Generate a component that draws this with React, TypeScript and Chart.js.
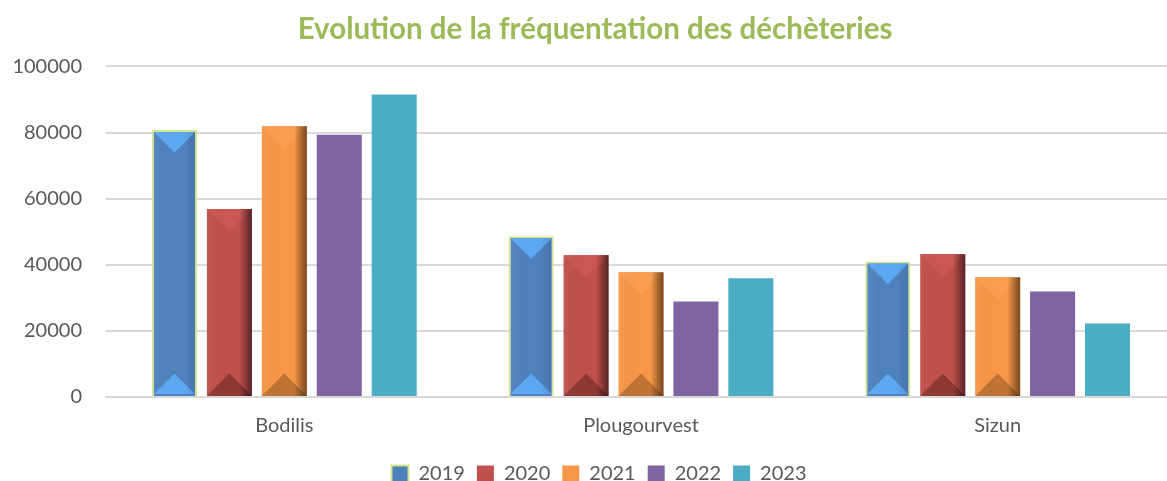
import React, { useEffect, useRef } from 'react';
import { Chart, registerables } from 'chart.js';

Chart.register(...registerables);

const categories = ['Bodilis', 'Plougourvest', 'Sizun'];
const years = ['2019', '2020', '2021', '2022', '2023'];
const values2019 = [80800, 48600, 41000];
const values2020 = [56900, 42900, 43200];
const values2021 = [81900, 37700, 36200];
const values2022 = [79300, 28900, 31900];
const values2023 = [91500, 35900, 22200];
const yTickValues = [0, 20000, 40000, 60000, 80000, 100000];

const seriesValues = [values2019, values2020, values2021, values2022, values2023];
const seriesColors = ['#4F81BD', '#C0504D', '#F79646', '#8064A2', '#4BACC6'];
const seriesBorders = ['#D3E58C', '#C0504D', '#F79646', '#8064A2', '#4BACC6'];
const seriesBorderWidths = [2, 0, 0, 0, 0];

type Bevel = { inset: number; left: string; right: string; top: string; bottom: string } | null;
const bevels: Bevel[] = [
  { inset: 2, left: 'rgba(255,255,255,0.05)', right: 'rgba(0,0,40,0.10)', top: '#5DA8F2', bottom: '#5DA8F2' },
  { inset: 0, left: 'rgba(255,255,255,0.04)', right: 'rgba(0,0,0,0.55)', top: '#CB5653', bottom: '#8E3835' },
  { inset: 0, left: 'rgba(255,255,255,0.05)', right: 'rgba(40,20,0,0.60)', top: '#F99E50', bottom: '#BF7334' },
  null,
  null,
];

const bevelPlugin = {
  id: 'bevel',
  afterDatasetsDraw(chart: any) {
    const ctx = chart.ctx as CanvasRenderingContext2D;
    bevels.forEach((st, di) => {
      if (!st) return;
      const meta = chart.getDatasetMeta(di);
      meta.data.forEach((bar: any) => {
        const p = bar.getProps(['x', 'y', 'base', 'width'], true);
        const l = p.x - p.width / 2 + st.inset;
        const r = p.x + p.width / 2 - st.inset;
        const t = p.y + st.inset;
        const b = p.base - st.inset;
        const w = r - l;
        const d = Math.min(w / 2, (b - t) / 2);
        ctx.save();
        ctx.beginPath();
        ctx.moveTo(l, t);
        ctx.lineTo(r, t);
        ctx.lineTo(p.x, t + d);
        ctx.closePath();
        ctx.fillStyle = st.top;
        ctx.fill();
        ctx.beginPath();
        ctx.moveTo(l, b);
        ctx.lineTo(r, b);
        ctx.lineTo(p.x, b - d);
        ctx.closePath();
        ctx.fillStyle = st.bottom;
        ctx.fill();
        const g = ctx.createLinearGradient(l, 0, r, 0);
        g.addColorStop(0, st.left);
        g.addColorStop(0.45, 'rgba(0,0,0,0)');
        g.addColorStop(0.72, 'rgba(0,0,0,0)');
        g.addColorStop(1, st.right);
        ctx.fillStyle = g;
        ctx.fillRect(l, t, w, b - t);
        ctx.restore();
      });
    });
  },
};

const shiftPlugin = {
  id: 'shiftBoxes',
  afterLayout(chart: any) {
    if (chart.legend) {
      chart.legend.left += 11;
      chart.legend.right += 11;
    }
    if (chart.titleBlock) {
      chart.titleBlock.left += 7;
      chart.titleBlock.right += 7;
    }
  },
};

export default function App() {
  const canvasRef = useRef<HTMLCanvasElement | null>(null);

  useEffect(() => {
    if (!canvasRef.current) return;
    const chart = new Chart(canvasRef.current, {
      type: 'bar',
      data: {
        labels: categories,
        datasets: years.map((yr, i) => ({
          label: yr,
          data: seriesValues[i],
          backgroundColor: seriesColors[i],
          borderColor: seriesBorders[i],
          borderWidth: seriesBorderWidths[i],
          barPercentage: 0.82,
          categoryPercentage: 0.77,
        })),
      },
      plugins: [bevelPlugin, shiftPlugin],
      options: {
        animation: false,
        responsive: true,
        maintainAspectRatio: false,
        layout: { padding: { left: 0, right: 14, top: 4, bottom: 0 } },
        plugins: {
          title: {
            display: true,
            text: 'Evolution de la fréquentation des déchèteries',
            color: '#9BBB59',
            font: { family: 'Lato', size: 29.5, weight: 'bold' },
            padding: { top: 8, bottom: 19 },
          },
          legend: {
            position: 'bottom',
            labels: {
              color: '#595959',
              font: { family: 'Lato', size: 20 },
              boxWidth: 17,
              boxHeight: 17,
              padding: 12,
            },
          },
          tooltip: { enabled: false },
        },
        scales: {
          x: {
            grid: { display: false },
            border: { display: true, color: '#D9D9D9', width: 2 },
            ticks: { color: '#595959', font: { family: 'Lato', size: 20 }, padding: 9 },
            afterFit: (scale: any) => {
              scale.height = scale.height + 5;
            },
          },
          y: {
            min: 0,
            max: 100000,
            afterFit: (scale: any) => {
              scale.width = 106;
            },
            afterBuildTicks: (scale: any) => {
              scale.ticks = yTickValues.map((v) => ({ value: v }));
            },
            grid: { color: '#D9D9D9', lineWidth: 2, drawTicks: false },
            border: { display: false },
            ticks: {
              color: '#595959',
              font: { family: 'Lato', size: 20 },
              padding: 24,
              callback: (v: any) => String(v),
            },
          },
        },
      },
    });
    return () => chart.destroy();
  }, []);

  return (
    <div style={{ position: 'fixed', left: 0, top: 0, width: 1167, height: 481, overflow: 'hidden', background: '#fff' }}>
      <div style={{ position: 'relative', width: 1190, height: 494 }}>
        <canvas ref={canvasRef} />
      </div>
    </div>
  );
}
